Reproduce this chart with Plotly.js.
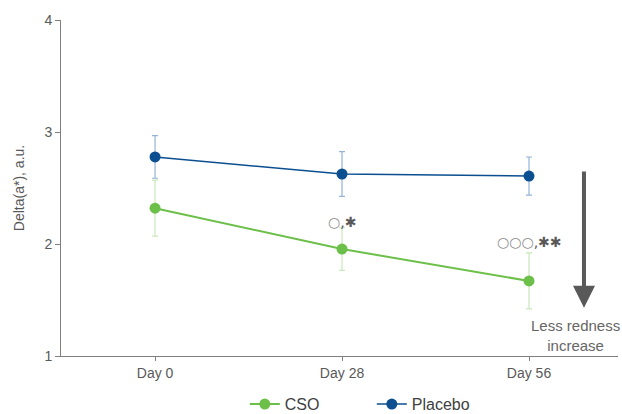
<!DOCTYPE html>
<html><head><meta charset="utf-8">
<script src="https://cdn.plot.ly/plotly-3.0.1.min.js"></script>
<style>body{margin:0}#c{width:622px;height:414px}</style>
</head><body><div id="c"></div>
<script>
const days = ["Day 0", "Day 28", "Day 56"];
const csoValues = [2.32, 1.955, 1.67];
const csoErr = [0.25, 0.19, 0.25];
const placeboValues = [2.777, 2.625, 2.607];
const placeboErr = [0.19, 0.2, 0.17];
const sigCircles = ["", "○", "○○○"];
const sigStars = ["", "✱", "✱✱"];
const sigY = [null, 2.2, 2.02];

const gray = '#595959';
const traces = [
  {x: days, y: csoValues, name: 'CSO', type: 'scatter', mode: 'lines+markers',
   line: {color: '#6cc04a', width: 2}, marker: {color: '#6cc04a', size: 11},
   error_y: {type: 'data', array: csoErr, visible: true, color: '#c9e8bb', thickness: 1.2, width: 3}},
  {x: days, y: placeboValues, name: 'Placebo', type: 'scatter', mode: 'lines+markers',
   line: {color: '#0b4f91', width: 1.5}, marker: {color: '#0b4f91', size: 11},
   error_y: {type: 'data', array: placeboErr, visible: true, color: '#94b3d6', thickness: 1.2, width: 3}}
];
const annotations = [];
for (let i = 0; i < days.length; i++) {
  if (sigCircles[i]) annotations.push({x: i, y: sigY[i], xref: 'x', yref: 'y',
    text: '<span style="color:#8c8c8c">' + sigCircles[i] + '</span>,' + sigStars[i], showarrow: false,
    font: {size: 14, color: gray, family: 'DejaVu Sans'}});
}
annotations.push({x: 2.294, y: 1.43, ax: 2.294, ay: 2.66, xref: 'x', yref: 'y', axref: 'x', ayref: 'y',
  text: '', showarrow: true, arrowhead: 2, arrowsize: 1.1, arrowwidth: 4, arrowcolor: gray});
annotations.push({x: 2.247, y: 1.18, xref: 'x', yref: 'y', text: 'Less redness<br>increase', showarrow: false,
  font: {size: 15, color: '#666666', family: 'Liberation Sans, Arial'}});

const layout = {
  width: 622, height: 414,
  margin: {l: 61, r: 4, t: 20, b: 58, autoexpand: false},
  paper_bgcolor: '#ffffff', plot_bgcolor: '#ffffff',
  font: {family: 'Liberation Sans, Arial', size: 12, color: gray},
  showlegend: true,
  legend: {orientation: 'h', x: 0.33, xanchor: 'left', y: -0.194, yanchor: 'bottom', font: {size: 16, color: '#404040'},
    itemwidth: 30, tracegroupgap: 0, entrywidth: 82, bgcolor: 'rgba(0,0,0,0)'},
  xaxis: {type: 'category', range: [-0.503, 2.476], showgrid: false, zeroline: false,
    showline: true, linecolor: '#7f7f7f', linewidth: 1, ticks: 'outside', ticklen: 4, tickcolor: '#7f7f7f',
    tickfont: {size: 14, color: gray}},
  yaxis: {range: [1, 4], dtick: 1, showgrid: false, zeroline: false, showline: true, linecolor: '#7f7f7f',
    linewidth: 1, ticks: 'outside', ticklen: 5, tickcolor: '#7f7f7f', tickfont: {size: 14, color: gray},
    title: {text: 'Delta(a*), a.u.', font: {size: 14, color: gray}, standoff: 16}},
  annotations: annotations
};
Plotly.newPlot('c', traces, layout, {displayModeBar: false, staticPlot: true});
</script></body></html>
